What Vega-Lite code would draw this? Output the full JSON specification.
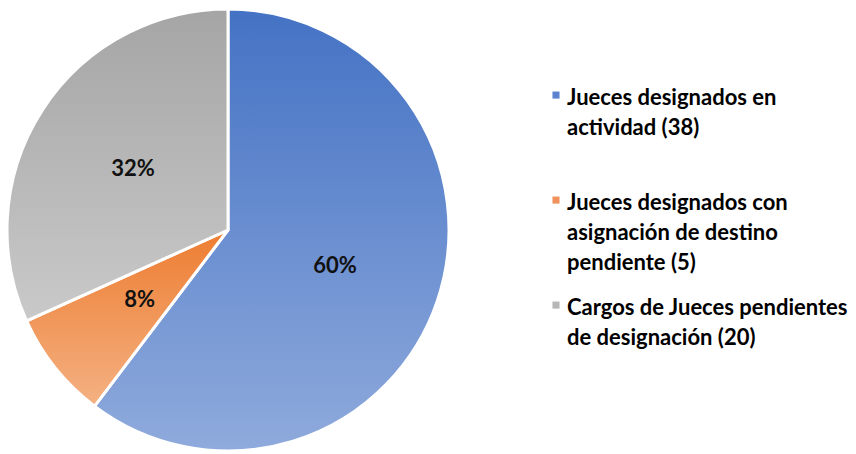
{
  "$schema": "https://vega.github.io/schema/vega-lite/v6.json",
  "width": 456,
  "height": 444,
  "padding": {"left": 0, "top": 3, "right": 0, "bottom": 0},
  "background": "white",
  "view": {"stroke": null},
  "config": {"style": {"guide-label": {"lineHeight": 30}}},
  "data": {
    "values": [
      {"cat": "Jueces designados en actividad (38)", "n": 38, "order": 1, "pct": "60%"},
      {"cat": "Jueces designados con asignación de destino pendiente (5)", "n": 5, "order": 2, "pct": "8%"},
      {"cat": "Cargos de Jueces pendientes de designación (20)", "n": 20, "order": 3, "pct": "32%"}
    ]
  },
  "encoding": {
    "theta": {"field": "n", "type": "quantitative", "stack": true},
    "order": {"field": "order", "type": "quantitative"}
  },
  "layer": [
    {
      "mark": {"type": "arc", "radius": 221, "stroke": "white", "strokeWidth": 3},
      "encoding": {
        "color": {
          "field": "cat",
          "type": "nominal",
          "sort": ["Jueces designados en actividad (38)", "Jueces designados con asignación de destino pendiente (5)", "Cargos de Jueces pendientes de designación (20)"],
          "scale": {
            "domain": ["Jueces designados en actividad (38)", "Jueces designados con asignación de destino pendiente (5)", "Cargos de Jueces pendientes de designación (20)"],
            "range": ["#5B83CF", "#F0925A", "#B7B7B7"]
          },
          "legend": {
            "orient": "none",
            "legendX": 545,
            "legendY": 69,
            "title": null,
            "padding": 0,
            "symbolType": "M-1,1H1V3H-1Z",
            "symbolSize": 50,
            "symbolStrokeWidth": 0,
            "labelFont": "Lato",
            "labelFontSize": 22,
            "labelFontWeight": "bold",
            "labelColor": "#000000",
            "labelBaseline": "top",
            "labelOffset": 0,
            "labelLimit": 400,
            "rowPadding": 13,
            "labelExpr": "datum.label == 'Jueces designados en actividad (38)' ? ['Jueces designados en', 'actividad (38)', ''] : datum.label == 'Jueces designados con asignación de destino pendiente (5)' ? ['Jueces designados con', 'asignación de destino', 'pendiente (5)'] : ['Cargos de Jueces pendientes', 'de designación (20)', '']"
          }
        }
      }
    },
    {
      "mark": {"type": "arc", "radius": 221, "stroke": "white", "strokeWidth": 3},
      "encoding": {
        "fill": {
          "condition": [
            {"test": "datum.order == 1", "value": {"gradient": "linear", "x1": 0, "y1": 0, "x2": 0, "y2": 1, "stops": [{"offset": 0, "color": "#4472C4"}, {"offset": 1, "color": "#8FAADC"}]}},
            {"test": "datum.order == 2", "value": {"gradient": "linear", "x1": 0, "y1": 0, "x2": 0, "y2": 1, "stops": [{"offset": 0, "color": "#ED7D31"}, {"offset": 1, "color": "#F4B183"}]}}
          ],
          "value": {"gradient": "linear", "x1": 0, "y1": 0, "x2": 0, "y2": 1, "stops": [{"offset": 0, "color": "#A5A5A5"}, {"offset": 1, "color": "#C9C9C9"}]}
        }
      }
    },
    {
      "mark": {"type": "text", "radius": 113, "font": "Lato", "fontSize": 22, "fontWeight": "bold", "color": "#111111"},
      "encoding": {
        "text": {"field": "pct", "type": "nominal"}
      }
    }
  ]
}
